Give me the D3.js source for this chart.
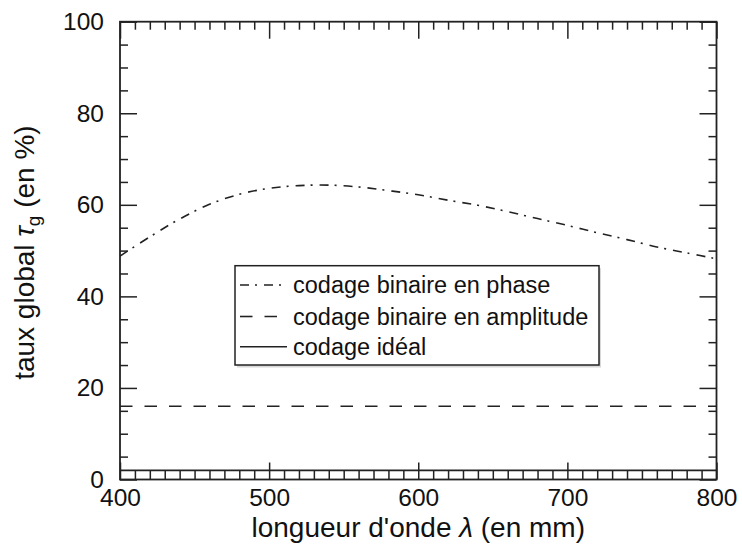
<!DOCTYPE html>
<html>
<head>
<meta charset="utf-8">
<script src="https://cdn.jsdelivr.net/npm/d3@7"></script>
<style>
  html, body { margin: 0; padding: 0; background: #fff; }
  svg { display: block; font-family: "Liberation Sans", Arial, Helvetica, sans-serif; }
</style>
</head>
<body>
<svg id="chart" width="742" height="544"></svg>
<script>
// Wavelength samples (nm) and global rate for binary phase coding (%)
const lambda = [400, 420, 440, 460, 480, 500, 520, 540, 560, 580, 600, 620, 640, 660, 680, 700, 720, 740, 760, 780, 800];
const phaseRate = [48.8, 53.0, 56.9, 60.1, 62.3, 63.6, 64.2, 64.3, 63.9, 63.1, 62.2, 61.0, 59.9, 58.5, 57.0, 55.5, 53.9, 52.4, 50.8, 49.5, 48.2];
// Constant rates (%)
const amplitudeRate = 16;
const idealRate = 2;
// Axis ticks
const xMajor = [400, 500, 600, 700, 800];
const yMajor = [0, 20, 40, 60, 80, 100];
// Legend entries
const legendLabels = ["codage binaire en phase", "codage binaire en amplitude", "codage idéal"];

const ink = "#222";
const svg = d3.select("#chart");
const L = 120, R = 716.5, T = 21.7, B = 479.5;

const x = d3.scaleLinear().domain([400, 800]).range([L, R]);
const y = d3.scaleLinear().domain([0, 100]).range([B, T]);

const xMinor = d3.range(400, 801, 10).filter(v => v % 100 !== 0);
const yMinor = d3.range(0, 101, 5).filter(v => v % 20 !== 0);

const dashDot = "9,6,2,7";
const dashed = "12.5,12";

// Curves
const line = d3.line().x(d => x(d[0])).y(d => y(d[1])).curve(d3.curveCatmullRom);
const plot = svg.append("g");

plot.append("path")
  .datum(lambda.map((l, i) => [l, phaseRate[i]]))
  .attr("d", line)
  .attr("fill", "none").attr("stroke", ink).attr("stroke-width", 1.6)
  .attr("stroke-dasharray", dashDot);

plot.append("path")
  .datum([[400, amplitudeRate], [800, amplitudeRate]])
  .attr("d", line)
  .attr("fill", "none").attr("stroke", ink).attr("stroke-width", 1.6)
  .attr("stroke-dasharray", dashed);

plot.append("path")
  .datum([[400, idealRate], [800, idealRate]])
  .attr("d", line)
  .attr("fill", "none").attr("stroke", ink).attr("stroke-width", 1.6);

// Axes: ticks point inwards on all four sides
function styleAxis(g) {
  g.select(".domain").remove();
  g.selectAll(".tick line").attr("stroke", ink).attr("stroke-width", 1.5);
  g.selectAll("text").attr("fill", "#111").attr("font-size", 24.5);
}

const axes = svg.append("g");
axes.append("g").attr("transform", `translate(0,${B})`)
  .call(d3.axisBottom(x).tickValues(xMajor).tickSize(-17).tickPadding(9).tickFormat(d3.format("d")))
  .call(styleAxis);
axes.append("g").attr("transform", `translate(0,${B})`)
  .call(d3.axisBottom(x).tickValues(xMinor).tickSize(-8.5).tickFormat(""))
  .call(styleAxis);
axes.append("g").attr("transform", `translate(0,${T})`)
  .call(d3.axisTop(x).tickValues(xMajor).tickSize(-17).tickFormat(""))
  .call(styleAxis);
axes.append("g").attr("transform", `translate(0,${T})`)
  .call(d3.axisTop(x).tickValues(xMinor).tickSize(-8).tickFormat(""))
  .call(styleAxis);
axes.append("g").attr("transform", `translate(${L},0)`)
  .call(d3.axisLeft(y).tickValues(yMajor).tickSize(-17).tickPadding(16).tickFormat(d3.format("d")))
  .call(styleAxis);
axes.append("g").attr("transform", `translate(${L},0)`)
  .call(d3.axisLeft(y).tickValues(yMinor).tickSize(-8).tickFormat(""))
  .call(styleAxis);
axes.append("g").attr("transform", `translate(${R},0)`)
  .call(d3.axisRight(y).tickValues(yMajor).tickSize(-17).tickFormat(""))
  .call(styleAxis);
axes.append("g").attr("transform", `translate(${R},0)`)
  .call(d3.axisRight(y).tickValues(yMinor).tickSize(-8).tickFormat(""))
  .call(styleAxis);

// Frame
svg.append("rect")
  .attr("x", L).attr("y", T).attr("width", R - L).attr("height", B - T)
  .attr("fill", "none").attr("stroke", ink).attr("stroke-width", 1.8);

// Axis titles
const xt = svg.append("text")
  .attr("x", (L + R) / 2).attr("y", 537)
  .attr("text-anchor", "middle").attr("font-size", 28).attr("fill", "#111");
xt.append("tspan").text("longueur d'onde ");
xt.append("tspan").attr("font-style", "italic").text("λ");
xt.append("tspan").text(" (en mm)");

const yt = svg.append("text")
  .attr("transform", `translate(34,${(T + B) / 2 + 2}) rotate(-90)`)
  .attr("text-anchor", "middle").attr("font-size", 28).attr("fill", "#111");
yt.append("tspan").text("taux global ");
yt.append("tspan").attr("font-style", "italic").text("τ");
yt.append("tspan").attr("font-size", 19).attr("dy", 6).text("g");
yt.append("tspan").attr("dy", -6).text(" (en %)");

// Legend
const lg = svg.append("g");
const box = { x: 235, y: 265.7, w: 364, h: 99.3 };
lg.append("rect")
  .attr("x", box.x + 2).attr("y", box.y + 2.5).attr("width", box.w).attr("height", box.h)
  .attr("fill", "#d8d8d8");
lg.append("rect")
  .attr("x", box.x).attr("y", box.y).attr("width", box.w).attr("height", box.h)
  .attr("fill", "#fff").attr("stroke", ink).attr("stroke-width", 1.5);

const rowY = [285, 316.5, 346.7];
const dashes = [dashDot, dashed, null];
legendLabels.forEach((lab, i) => {
  lg.append("line")
    .attr("x1", 240).attr("x2", 287).attr("y1", rowY[i]).attr("y2", rowY[i])
    .attr("stroke", ink).attr("stroke-width", 1.6)
    .attr("stroke-dasharray", dashes[i]);
  lg.append("text")
    .attr("x", 293).attr("y", rowY[i]).attr("dy", "0.35em")
    .attr("font-size", 23.5).attr("fill", "#111")
    .text(lab);
});
</script>
</body>
</html>
